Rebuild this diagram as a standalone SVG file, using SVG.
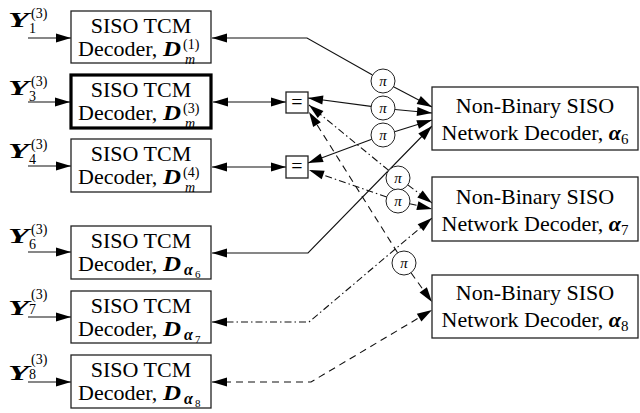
<svg xmlns="http://www.w3.org/2000/svg" width="640" height="413" viewBox="0 0 640 413">
<style>
.t{font-size:22px}
.c{text-anchor:middle}
.bi{font-weight:bold;font-style:italic}
.it{font-style:italic}
.s{font-size:14px}
.ss{font-size:11px}
.yy{font-size:22px;font-weight:bold;font-style:italic}
.box{fill:#fff;stroke:#222;stroke-width:1.3}
.thick{fill:#fff;stroke:#000;stroke-width:3.2}
.pi{fill:#fff;stroke:#222;stroke-width:1}
.ln{fill:none;stroke:#111;stroke-width:1.1}
.dash{stroke-dasharray:7,5}
.dd{stroke-dasharray:7,3,1.5,3}
.a{marker-end:url(#ah)}
.b{marker-start:url(#ah);marker-end:url(#ah)}
.pt{font-size:15px;font-style:italic;text-anchor:middle}
</style>
<defs>
<marker id="ah" markerUnits="userSpaceOnUse" markerWidth="16" markerHeight="10" refX="15" refY="4.5" orient="auto-start-reverse" overflow="visible">
<path d="M0,0 L15,4.5 L0,9 Z" fill="#000"/>
</marker>
</defs>

<g id="connectors">
<line class="ln a" x1="28" y1="38" x2="71" y2="38"/>
<line class="ln a" x1="28" y1="102" x2="70" y2="102"/>
<line class="ln a" x1="28" y1="166" x2="71" y2="166"/>
<line class="ln a" x1="28" y1="252" x2="71" y2="252"/>
<line class="ln a" x1="28" y1="317" x2="71" y2="317"/>
<line class="ln a" x1="28" y1="382" x2="71" y2="382"/>
<path class="ln a" d="M372.5,75 L307,38 L212,38"/>
<line class="ln a" x1="393.5" y1="86.8" x2="432" y2="107"/>
<line class="ln b" x1="213" y1="102" x2="286" y2="102"/>
<line class="ln a" x1="371" y1="106.4" x2="308" y2="98"/>
<line class="ln a" x1="395" y1="109.5" x2="432" y2="113"/>
<line class="ln b" x1="212" y1="167" x2="286" y2="167"/>
<line class="ln a" x1="371.8" y1="139.2" x2="308" y2="163"/>
<line class="ln a" x1="394.5" y1="131.7" x2="432" y2="120"/>
<path class="ln b" d="M212,253 L308,253 L432,126"/>
<line class="ln dd a" x1="388.7" y1="170.4" x2="309" y2="105"/>
<line class="ln dd a" x1="407.8" y1="184.9" x2="432" y2="203"/>
<line class="ln dd a" x1="386.7" y1="197.1" x2="309" y2="170"/>
<line class="ln dd a" x1="409.7" y1="203.7" x2="432" y2="209"/>
<line class="ln dash a" x1="397.6" y1="252.8" x2="309" y2="112"/>
<line class="ln dash a" x1="411" y1="272.8" x2="432" y2="302"/>
<path class="ln dd b" d="M212,322 L309,322 L432,218"/>
<path class="ln dash b" d="M212,382 L311,382 L432,310"/>
</g>

<g font-family="Liberation Serif, Times New Roman, DejaVu Serif, serif">
<g id="y1"><text class="yy" x="8" y="27" textLength="21" lengthAdjust="spacingAndGlyphs">Y</text><text class="s" x="31" y="18">(3)</text><text class="s" x="29" y="33">1</text></g>
<g id="y3"><text class="yy" x="8" y="95" textLength="21" lengthAdjust="spacingAndGlyphs">Y</text><text class="s" x="31" y="86">(3)</text><text class="s" x="29" y="101">3</text></g>
<g id="y4"><text class="yy" x="8" y="158" textLength="21" lengthAdjust="spacingAndGlyphs">Y</text><text class="s" x="31" y="149">(3)</text><text class="s" x="29" y="164">4</text></g>
<g id="y6"><text class="yy" x="8" y="243" textLength="21" lengthAdjust="spacingAndGlyphs">Y</text><text class="s" x="31" y="234">(3)</text><text class="s" x="29" y="249">6</text></g>
<g id="y7"><text class="yy" x="8" y="315" textLength="21" lengthAdjust="spacingAndGlyphs">Y</text><text class="s" x="31" y="299">(3)</text><text class="s" x="29" y="314">7</text></g>
<g id="y8"><text class="yy" x="8" y="380" textLength="21" lengthAdjust="spacingAndGlyphs">Y</text><text class="s" x="31" y="364">(3)</text><text class="s" x="29" y="379">8</text></g>

<g id="dec1">
<rect class="box" x="71" y="11" width="140" height="52"/>
<text class="t c" x="141" y="33">SISO TCM</text>
<text class="t" x="78" y="56">Decoder,</text><text class="t bi" x="163" y="56" textLength="18" lengthAdjust="spacingAndGlyphs">D</text>
<text class="s" x="183" y="49">(1)</text><text class="s it" x="185" y="64">m</text>
</g>
<g id="dec3">
<rect class="thick" x="71" y="75" width="140" height="53"/>
<text class="t c" x="141" y="97">SISO TCM</text>
<text class="t" x="78" y="120">Decoder,</text><text class="t bi" x="163" y="120" textLength="18" lengthAdjust="spacingAndGlyphs">D</text>
<text class="s" x="183" y="113">(3)</text><text class="s it" x="185" y="128">m</text>
</g>
<g id="dec4">
<rect class="box" x="71" y="139" width="140" height="53"/>
<text class="t c" x="141" y="161">SISO TCM</text>
<text class="t" x="78" y="184">Decoder,</text><text class="t bi" x="163" y="184" textLength="18" lengthAdjust="spacingAndGlyphs">D</text>
<text class="s" x="183" y="177">(4)</text><text class="s it" x="185" y="192">m</text>
</g>
<g id="dec6">
<rect class="box" x="71" y="226" width="140" height="53"/>
<text class="t c" x="141" y="248">SISO TCM</text>
<text class="t" x="78" y="271">Decoder,</text><text class="t bi" x="163" y="271" textLength="18" lengthAdjust="spacingAndGlyphs">D</text>
<text class="bi" style="font-size:16px" x="184" y="275">α</text><text class="ss" x="195" y="278">6</text>
</g>
<g id="dec7">
<rect class="box" x="71" y="291" width="140" height="52"/>
<text class="t c" x="141" y="313">SISO TCM</text>
<text class="t" x="78" y="336">Decoder,</text><text class="t bi" x="163" y="336" textLength="18" lengthAdjust="spacingAndGlyphs">D</text>
<text class="bi" style="font-size:16px" x="184" y="340">α</text><text class="ss" x="195" y="343">7</text>
</g>
<g id="dec8">
<rect class="box" x="71" y="355" width="140" height="53"/>
<text class="t c" x="141" y="377">SISO TCM</text>
<text class="t" x="78" y="400">Decoder,</text><text class="t bi" x="163" y="400" textLength="18" lengthAdjust="spacingAndGlyphs">D</text>
<text class="bi" style="font-size:16px" x="184" y="404">α</text><text class="ss" x="195" y="407">8</text>
</g>

<g id="eq1"><rect class="box" x="286" y="92" width="22" height="21"/><text class="c" style="font-size:20px" x="297" y="108.5">=</text></g>
<g id="eq2"><rect class="box" x="286" y="156" width="22" height="22"/><text class="c" style="font-size:20px" x="297" y="172.5">=</text></g>

<g id="pi1"><circle class="pi" cx="383" cy="81" r="12"/><text class="pt" x="383" y="86">π</text></g>
<g id="pi2"><circle class="pi" cx="383" cy="108" r="12"/><text class="pt" x="383" y="113">π</text></g>
<g id="pi3"><circle class="pi" cx="383" cy="135" r="12"/><text class="pt" x="383" y="140">π</text></g>
<g id="pi4"><circle class="pi" cx="398" cy="178" r="12"/><text class="pt" x="398" y="183">π</text></g>
<g id="pi5"><circle class="pi" cx="398" cy="201" r="12"/><text class="pt" x="398" y="206">π</text></g>
<g id="pi6"><circle class="pi" cx="404" cy="263" r="12"/><text class="pt" x="404" y="268">π</text></g>

<g id="net6">
<rect class="box" x="432" y="87" width="206" height="63"/>
<text class="t c" x="535" y="113">Non-Binary SISO</text>
<text class="t c" x="535" y="140">Network Decoder, <tspan class="bi">α</tspan><tspan style="font-size:15px" dy="4">6</tspan></text>
</g>
<g id="net7">
<rect class="box" x="432" y="177" width="206" height="64"/>
<text class="t c" x="535" y="204">Non-Binary SISO</text>
<text class="t c" x="535" y="231">Network Decoder, <tspan class="bi">α</tspan><tspan style="font-size:15px" dy="4">7</tspan></text>
</g>
<g id="net8">
<rect class="box" x="432" y="275" width="206" height="63"/>
<text class="t c" x="535" y="300">Non-Binary SISO</text>
<text class="t c" x="535" y="327">Network Decoder, <tspan class="bi">α</tspan><tspan style="font-size:15px" dy="4">8</tspan></text>
</g>
</g>
</svg>
